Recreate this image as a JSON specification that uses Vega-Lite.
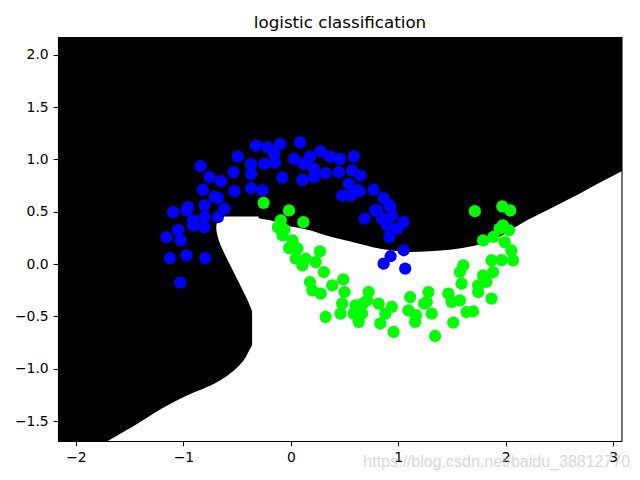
{
  "$schema": "https://vega.github.io/schema/vega-lite/v6.json",
  "width": 564,
  "height": 404,
  "autosize": "none",
  "padding": {"left": 58, "top": 37, "right": 18, "bottom": 39},
  "background": "white",
  "title": {"text": "logistic classification", "fontSize": 16.7, "font": "DejaVu Sans", "fontWeight": "normal", "color": "black", "offset": 5},
  "config": {
    "view": {"fill": "black", "stroke": null},
    "axis": {
      "labelFont": "DejaVu Sans", "labelFontSize": 13.9, "labelColor": "black",
      "tickColor": "black", "tickSize": 4.9, "tickWidth": 1.1, "labelPadding": 4.9,
      "domainColor": "black", "domainWidth": 1.1, "grid": false, "zindex": 1
    }
  },
  "layer": [
    {
      "data": {"values": [
        {"xa": -0.36, "yu": 0.447}, {"xa": -0.278, "yu": 0.433}, {"xa": -0.185, "yu": 0.417},
        {"xa": -0.05, "yu": 0.37}, {"xa": 0.185, "yu": 0.321}, {"xa": 0.278, "yu": 0.29},
        {"xa": 0.556, "yu": 0.215}, {"xa": 0.833, "yu": 0.147}, {"xa": 0.926, "yu": 0.133},
        {"xa": 1.111, "yu": 0.115}, {"xa": 1.296, "yu": 0.122}, {"xa": 1.5, "yu": 0.14},
        {"xa": 1.697, "yu": 0.172}, {"xa": 1.914, "yu": 0.242}, {"xa": 2.099, "yu": 0.36},
        {"xa": 2.3, "yu": 0.47}, {"xa": 2.5, "yu": 0.575}, {"xa": 2.7, "yu": 0.68},
        {"xa": 2.9, "yu": 0.79}, {"xa": 3.083, "yu": 0.89}
      ]},
      "mark": {"type": "area", "color": "white", "clip": true, "opacity": 1, "interpolate": "monotone"},
      "encoding": {
        "x": {"field": "xa", "type": "quantitative", "title": null,
              "scale": {"domain": [-2.167, 3.083], "nice": false, "zero": false},
              "axis": {"values": [-2, -1, 0, 1, 2, 3], "format": "d"}},
        "y": {"field": "yu", "type": "quantitative", "title": null,
              "scale": {"domain": [-1.69, 2.169], "nice": false, "zero": false},
              "axis": {"values": [-1.5, -1.0, -0.5, 0.0, 0.5, 1.0, 1.5, 2.0], "format": ".1f"}},
        "y2": {"datum": -1.69}
      }
    },
    {
      "data": {"values": [
        {"yb": -1.69, "xl": -1.704}, {"yb": -1.54, "xl": -1.45}, {"yb": -1.38, "xl": -1.2},
        {"yb": -1.236, "xl": -0.926}, {"yb": -1.157, "xl": -0.741}, {"yb": -1.061, "xl": -0.586},
        {"yb": -0.95, "xl": -0.463}, {"yb": -0.823, "xl": -0.386}, {"yb": -0.728, "xl": -0.346},
        {"yb": -0.601, "xl": -0.34}, {"yb": -0.442, "xl": -0.364}, {"yb": -0.315, "xl": -0.417},
        {"yb": -0.155, "xl": -0.494}, {"yb": 0.004, "xl": -0.571}, {"yb": 0.131, "xl": -0.632},
        {"yb": 0.257, "xl": -0.679}, {"yb": 0.353, "xl": -0.694}, {"yb": 0.417, "xl": -0.679},
        {"yb": 0.445, "xl": -0.64}, {"yb": 0.455, "xl": -0.617}
      ]},
      "mark": {"type": "area", "orient": "horizontal", "color": "white", "clip": true, "opacity": 1, "interpolate": "monotone"},
      "encoding": {
        "y": {"field": "yb", "type": "quantitative", "title": null},
        "x": {"field": "xl", "type": "quantitative", "title": null},
        "x2": {"datum": -0.3}
      }
    },
    {
      "data": {"values": [
        {"x": -0.324, "y": 1.132, "c": "blue"}, {"x": -0.216, "y": 1.116, "c": "blue"},
        {"x": -0.1, "y": 1.145, "c": "blue"}, {"x": 0.086, "y": 1.163, "c": "blue"},
        {"x": -0.494, "y": 1.027, "c": "blue"}, {"x": -0.37, "y": 0.957, "c": "blue"},
        {"x": -0.247, "y": 0.957, "c": "blue"}, {"x": -0.148, "y": 0.968, "c": "blue"},
        {"x": -0.84, "y": 0.935, "c": "blue"}, {"x": -0.756, "y": 0.83, "c": "blue"},
        {"x": -0.648, "y": 0.792, "c": "blue"}, {"x": -0.534, "y": 0.877, "c": "blue"},
        {"x": -0.37, "y": 0.862, "c": "blue"}, {"x": -0.818, "y": 0.71, "c": "blue"},
        {"x": -0.525, "y": 0.696, "c": "blue"}, {"x": -0.37, "y": 0.725, "c": "blue"},
        {"x": -0.262, "y": 0.703, "c": "blue"}, {"x": -0.679, "y": 0.633, "c": "blue"},
        {"x": -0.803, "y": 0.56, "c": "blue"}, {"x": -0.618, "y": 0.528, "c": "blue"},
        {"x": -1.095, "y": 0.496, "c": "blue"}, {"x": -0.957, "y": 0.544, "c": "blue"},
        {"x": -0.91, "y": 0.417, "c": "blue"}, {"x": -0.803, "y": 0.448, "c": "blue"},
        {"x": -0.679, "y": 0.448, "c": "blue"}, {"x": -1.049, "y": 0.325, "c": "blue"},
        {"x": -0.08, "y": 0.826, "c": "blue"}, {"x": -0.155, "y": 1.053, "c": "blue"},
        {"x": 0.031, "y": 1.005, "c": "blue"}, {"x": 0.179, "y": 1.027, "c": "blue"},
        {"x": 0.278, "y": 1.078, "c": "blue"}, {"x": 0.364, "y": 1.027, "c": "blue"},
        {"x": 0.456, "y": 1.005, "c": "blue"}, {"x": 0.586, "y": 1.027, "c": "blue"},
        {"x": 0.123, "y": 0.957, "c": "blue"}, {"x": 0.216, "y": 0.91, "c": "blue"},
        {"x": 0.324, "y": 0.868, "c": "blue"}, {"x": 0.447, "y": 0.877, "c": "blue"},
        {"x": 0.108, "y": 0.805, "c": "blue"}, {"x": 0.216, "y": 0.83, "c": "blue"},
        {"x": 0.571, "y": 0.894, "c": "blue"}, {"x": 0.648, "y": 0.846, "c": "blue"},
        {"x": 0.54, "y": 0.767, "c": "blue"}, {"x": 0.478, "y": 0.655, "c": "blue"},
        {"x": 0.556, "y": 0.655, "c": "blue"}, {"x": 0.642, "y": 0.696, "c": "blue"},
        {"x": 0.771, "y": 0.71, "c": "blue"}, {"x": 0.864, "y": 0.633, "c": "blue"},
        {"x": 0.926, "y": 0.55, "c": "blue"}, {"x": 0.803, "y": 0.512, "c": "blue"},
        {"x": 0.688, "y": 0.433, "c": "blue"}, {"x": 0.849, "y": 0.433, "c": "blue"},
        {"x": 0.941, "y": 0.464, "c": "blue"}, {"x": 0.895, "y": 0.369, "c": "blue"},
        {"x": 1.049, "y": 0.4, "c": "blue"}, {"x": 0.994, "y": 0.339, "c": "blue"},
        {"x": 0.918, "y": 0.26, "c": "blue"}, {"x": 1.051, "y": 0.132, "c": "blue"},
        {"x": 0.929, "y": 0.075, "c": "blue"}, {"x": 0.864, "y": 0.004, "c": "blue"},
        {"x": 1.065, "y": -0.044, "c": "blue"}, {"x": -1.157, "y": 0.257, "c": "blue"},
        {"x": -1.025, "y": 0.226, "c": "blue"}, {"x": -1.127, "y": 0.057, "c": "blue"},
        {"x": -0.972, "y": 0.083, "c": "blue"}, {"x": -0.796, "y": 0.057, "c": "blue"},
        {"x": -1.028, "y": -0.177, "c": "blue"}, {"x": -0.91, "y": 0.369, "c": "blue"},
        {"x": -0.803, "y": 0.353, "c": "blue"}, {"x": -0.97, "y": 0.514, "c": "blue"},
        {"x": -0.708, "y": 0.641, "c": "blue"}, {"x": 0.625, "y": 0.705, "c": "blue"},
        {"x": 0.918, "y": 0.562, "c": "blue"}, {"x": 0.785, "y": 0.514, "c": "blue"},
        {"x": -0.253, "y": 0.585, "c": "green"}, {"x": -0.016, "y": 0.512, "c": "green"},
        {"x": 0.117, "y": 0.4, "c": "green"}, {"x": -0.093, "y": 0.417, "c": "green"},
        {"x": -0.12, "y": 0.35, "c": "green"}, {"x": -0.06, "y": 0.33, "c": "green"},
        {"x": -0.077, "y": 0.274, "c": "green"}, {"x": 0.016, "y": 0.226, "c": "green"},
        {"x": -0.016, "y": 0.153, "c": "green"}, {"x": 0.062, "y": 0.147, "c": "green"},
        {"x": 0.046, "y": 0.051, "c": "green"}, {"x": 0.108, "y": -0.012, "c": "green"},
        {"x": 0.139, "y": 0.051, "c": "green"}, {"x": 0.231, "y": 0.019, "c": "green"},
        {"x": 0.271, "y": 0.121, "c": "green"}, {"x": 0.308, "y": -0.076, "c": "green"},
        {"x": 0.179, "y": -0.172, "c": "green"}, {"x": 0.201, "y": -0.251, "c": "green"},
        {"x": 0.278, "y": -0.282, "c": "green"}, {"x": 0.386, "y": -0.203, "c": "green"},
        {"x": 0.488, "y": -0.146, "c": "green"}, {"x": 0.5, "y": -0.267, "c": "green"},
        {"x": 0.324, "y": -0.505, "c": "green"}, {"x": 0.463, "y": -0.473, "c": "green"},
        {"x": 0.478, "y": -0.378, "c": "green"}, {"x": 0.602, "y": -0.394, "c": "green"},
        {"x": 0.586, "y": -0.473, "c": "green"}, {"x": 0.632, "y": -0.553, "c": "green"},
        {"x": 0.664, "y": -0.473, "c": "green"}, {"x": 0.725, "y": -0.267, "c": "green"},
        {"x": 0.71, "y": -0.346, "c": "green"}, {"x": 0.818, "y": -0.378, "c": "green"},
        {"x": 0.88, "y": -0.473, "c": "green"}, {"x": 0.833, "y": -0.568, "c": "green"},
        {"x": 0.941, "y": -0.41, "c": "green"}, {"x": 0.957, "y": -0.648, "c": "green"},
        {"x": 1.111, "y": -0.315, "c": "green"}, {"x": 1.281, "y": -0.267, "c": "green"},
        {"x": 1.265, "y": -0.362, "c": "green"}, {"x": 1.095, "y": -0.442, "c": "green"},
        {"x": 1.157, "y": -0.553, "c": "green"}, {"x": 1.312, "y": -0.473, "c": "green"},
        {"x": 1.466, "y": -0.282, "c": "green"}, {"x": 1.497, "y": -0.362, "c": "green"},
        {"x": 1.574, "y": -0.346, "c": "green"}, {"x": 1.636, "y": -0.458, "c": "green"},
        {"x": 1.697, "y": -0.451, "c": "green"}, {"x": 1.512, "y": -0.559, "c": "green"},
        {"x": 1.343, "y": -0.687, "c": "green"}, {"x": 1.605, "y": -0.012, "c": "green"},
        {"x": 1.574, "y": -0.076, "c": "green"}, {"x": 1.59, "y": -0.187, "c": "green"},
        {"x": 1.79, "y": -0.108, "c": "green"}, {"x": 1.883, "y": -0.076, "c": "green"},
        {"x": 1.744, "y": -0.203, "c": "green"}, {"x": 1.744, "y": -0.267, "c": "green"},
        {"x": 1.868, "y": -0.33, "c": "green"}, {"x": 1.82, "y": -0.17, "c": "green"},
        {"x": 1.944, "y": 0.338, "c": "green"}, {"x": 1.79, "y": 0.226, "c": "green"},
        {"x": 1.991, "y": 0.21, "c": "green"}, {"x": 2.053, "y": 0.131, "c": "green"},
        {"x": 1.868, "y": 0.035, "c": "green"}, {"x": 2.068, "y": 0.035, "c": "green"},
        {"x": 1.713, "y": 0.505, "c": "green"}, {"x": 1.969, "y": 0.55, "c": "green"},
        {"x": 2.043, "y": 0.512, "c": "green"}, {"x": 1.975, "y": 0.369, "c": "green"},
        {"x": 2.031, "y": 0.323, "c": "green"}, {"x": 1.887, "y": 0.26, "c": "green"},
        {"x": 1.165, "y": -0.488, "c": "green"}, {"x": 1.241, "y": -0.377, "c": "green"},
        {"x": 0.671, "y": -0.377, "c": "green"}, {"x": 1.963, "y": 0.037, "c": "green"}
      ]},
      "mark": {"type": "circle", "size": 150, "opacity": 1},
      "encoding": {
        "x": {"field": "x", "type": "quantitative", "title": null},
        "y": {"field": "y", "type": "quantitative", "title": null},
        "color": {"field": "c", "type": "nominal", "legend": null,
                  "scale": {"domain": ["blue", "green"], "range": ["#0000ff", "#00ff00"]}}
      }
    },
    {
      "data": {"values": [{}]},
      "mark": {"type": "rule", "color": "black", "strokeWidth": 1.1},
      "encoding": {"x": {"datum": 3.083}}
    },
    {
      "data": {"values": [{}]},
      "mark": {"type": "text", "font": "Liberation Sans", "fontSize": 16, "color": "#c8c8c8", "opacity": 0.7, "align": "center", "baseline": "middle"},
      "encoding": {
        "x": {"datum": 1.917},
        "y": {"datum": -1.891},
        "text": {"value": "https://blog.csdn.net/baidu_38812770"}
      }
    }
  ]
}
